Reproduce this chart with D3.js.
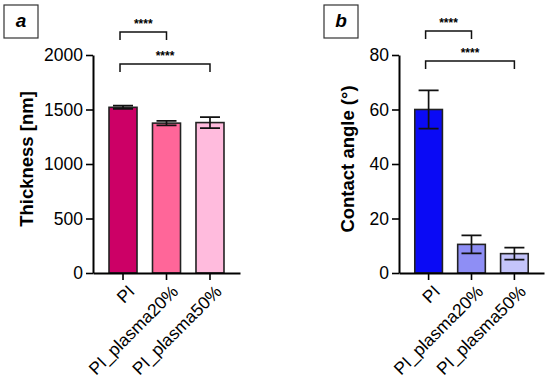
<!DOCTYPE html>
<html>
<head>
<meta charset="utf-8">
<script src="https://cdn.jsdelivr.net/npm/d3@7"></script>
<style>
  body { margin: 0; background: #fff; }
  svg { font-family: "Liberation Sans", Arial, sans-serif; }
</style>
</head>
<body>
<svg id="chart" width="550" height="381"></svg>
<script>
// data
const groups = ['PI', 'PI_plasma20%', 'PI_plasma50%'];
const thicknessMean = [1520, 1375, 1380];
const thicknessErr = [15, 20, 50];
const angleMean = [60, 10.5, 7.1];
const angleErr = [7, 3.3, 2.2];
const thicknessTicks = [0, 500, 1000, 1500, 2000];
const angleTicks = [0, 20, 40, 60, 80];
const thicknessColors = ['#cc0066', '#ff6699', '#ffbbdd'];
const angleColors = ['#0a0af5', '#8e8ef5', '#c4c4fa'];

const svg = d3.select('#chart');

function drawPanel(opt) {
  const g = svg.append('g');
  const y = d3.scaleLinear().domain(opt.domain).range([273, 55]);
  const x = d3.scaleBand().domain(groups).range([opt.x0, opt.x1])
    .paddingInner(0.356).paddingOuter(0.368);

  // bars
  g.selectAll('.bar')
    .data(opt.mean)
    .enter()
    .append('rect')
    .attr('x', (d, i) => x(groups[i]))
    .attr('y', d => y(d))
    .attr('width', x.bandwidth())
    .attr('height', d => y(0) - y(d))
    .attr('fill', (d, i) => opt.colors[i])
    .attr('stroke', '#222')
    .attr('stroke-width', 1.6);

  // error bars
  const cx = i => x(groups[i]) + x.bandwidth() / 2;
  opt.mean.forEach((m, i) => {
    const e = opt.err[i];
    const path = `M${cx(i)},${y(m + e)}V${y(m - e)}` +
      `M${cx(i) - 10},${y(m + e)}h20M${cx(i) - 10},${y(m - e)}h20`;
    g.append('path').attr('d', path).attr('stroke', '#111')
      .attr('stroke-width', 1.7).attr('fill', 'none');
  });

  // axes
  const yAxis = g.append('g')
    .attr('transform', `translate(${opt.x0},0)`)
    .call(d3.axisLeft(y).tickValues(opt.ticks).tickFormat(d3.format('d'))
      .tickSize(7).tickPadding(3).tickSizeOuter(0));
  yAxis.select('.domain').attr('stroke-width', 2);
  yAxis.selectAll('.tick line').attr('stroke-width', 1.6);
  yAxis.selectAll('text').style('font-size', '17.5px').attr('fill', '#000');

  const xAxis = g.append('g')
    .attr('transform', `translate(0,${y(0)})`)
    .call(d3.axisBottom(x).tickSize(7).tickSizeOuter(0).tickFormat(''));
  xAxis.select('.domain').attr('stroke-width', 2);
  xAxis.selectAll('.tick line').attr('stroke-width', 1.6);

  // rotated category labels
  g.selectAll('.xlab')
    .data(groups)
    .enter()
    .append('text')
    .attr('transform', d => `translate(${x(d) + x.bandwidth() / 2 + 4},${y(0) + 11}) rotate(-45)`)
    .attr('text-anchor', 'end')
    .attr('dy', '0.7em')
    .style('font-size', '17.5px')
    .text(d => d);

  // y label
  g.append('text')
    .attr('transform', `translate(${opt.labelX},${opt.labelY}) rotate(-90)`)
    .attr('text-anchor', 'middle')
    .style('font-size', '18.5px')
    .style('font-weight', 'bold')
    .text(opt.label);

  // significance brackets
  opt.brackets.forEach(b => {
    const xa = cx(b.from) - 3, xb = cx(b.to);
    g.append('path')
      .attr('d', `M${xa},${b.y + 8}V${b.y}H${xb}V${b.y + 8}`)
      .attr('stroke', '#111').attr('stroke-width', 1.5).attr('fill', 'none');
    g.append('text')
      .attr('x', (xa + xb) / 2)
      .attr('y', b.y - 4)
      .attr('text-anchor', 'middle')
      .style('font-size', '12px')
      .style('font-weight', 'bold')
      .text('****');
  });

  // panel letter box
  g.append('rect')
    .attr('x', opt.boxX).attr('y', 5).attr('width', 34).attr('height', 33)
    .attr('fill', '#fff').attr('stroke', '#333').attr('stroke-width', 1.2);
  g.append('text')
    .attr('x', opt.boxX + 17).attr('y', 27)
    .attr('text-anchor', 'middle')
    .style('font-size', '19px')
    .style('font-weight', 'bold')
    .style('font-style', 'italic')
    .text(opt.letter);
}

drawPanel({
  x0: 93, x1: 240, domain: [0, 2000], ticks: thicknessTicks,
  mean: thicknessMean, err: thicknessErr, colors: thicknessColors,
  label: 'Thickness [nm]', labelX: 33, labelY: 159,
  brackets: [{ from: 0, to: 1, y: 32 }, { from: 0, to: 2, y: 64 }],
  boxX: 4, letter: 'a'
});

drawPanel({
  x0: 399, x1: 544, domain: [0, 80], ticks: angleTicks,
  mean: angleMean, err: angleErr, colors: angleColors,
  label: 'Contact angle (°)', labelX: 354, labelY: 159,
  brackets: [{ from: 0, to: 1, y: 31 }, { from: 0, to: 2, y: 61 }],
  boxX: 324, letter: 'b'
});
</script>
</body>
</html>
